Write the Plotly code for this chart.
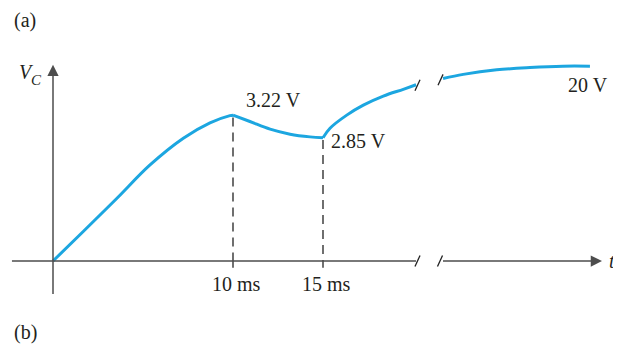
import plotly.graph_objects as go

# ---- data (time in ms, voltage in drawing units; sketch is not to scale) ----
t_charge = [0, 1.68, 3.54, 5.39, 7.24, 8.72, 9.83, 10]
v_charge = [0, 0.65, 1.38, 2.12, 2.71, 3.05, 3.21, 3.22]
t_discharge = [10, 10.94, 12.06, 13.17, 14.28, 15]
v_discharge = [3.22, 3.08, 2.91, 2.80, 2.74, 2.72]
t_recharge = [15, 15.39, 16.32, 17.24, 18.35, 19.46, 20.17]
v_recharge = [2.72, 2.93, 3.22, 3.44, 3.64, 3.79, 3.89]
t_final = [21.67, 22.79, 24.65, 26.5, 28.33, 29.83]
v_final = [4.03, 4.12, 4.22, 4.27, 4.30, 4.30]

mark_t = [10, 15]
mark_v = [3.22, 2.72]
mark_labels = ["10 ms", "15 ms"]
value_labels = ["3.22 V", "2.85 V"]
final_label = "20 V"

break_start = 20.17
break_end = 21.5

CURVE = "#1CA6E0"
AXIS = "#4D4D4D"
TEXT = "#231F20"
FONT = "Liberation Serif"

W, H = 613, 337   # page adds an 8px body margin
OFF = 8

fig = go.Figure()

for tt, vv in [(t_charge, v_charge), (t_discharge, v_discharge),
               (t_recharge, v_recharge), (t_final, v_final)]:
    fig.add_trace(go.Scatter(x=tt, y=vv, mode="lines",
                             line=dict(color=CURVE, width=3, shape="spline", smoothing=1.0),
                             hoverinfo="skip", showlegend=False))

# dashed drop lines
for tm, vm in zip(mark_t, mark_v):
    fig.add_trace(go.Scatter(x=[tm, tm], y=[vm - 0.05, 0], mode="lines",
                             line=dict(color="#222222", width=1.3, dash="9px,6px"),
                             hoverinfo="skip", showlegend=False))
    fig.add_shape(type="line", x0=tm, x1=tm, y0=0, y1=-0.15,
                  line=dict(color="#222222", width=1.3))

# axes
x_left = -2.28
x_tip = 30.5
y_bottom = -0.95
y_tip = 4.33
fig.add_shape(type="line", x0=x_left, x1=break_start, y0=0, y1=0,
              line=dict(color=AXIS, width=1.5))
fig.add_annotation(x=x_tip, y=0, ax=break_end, ay=0, axref="x", ayref="y",
                   showarrow=True, arrowhead=2, arrowsize=1.5, arrowwidth=1.5,
                   arrowcolor=AXIS, text=" ")
fig.add_annotation(x=0, y=y_tip, ax=0, ay=y_bottom, axref="x", ayref="y",
                   showarrow=True, arrowhead=2, arrowsize=1.5, arrowwidth=1.5,
                   arrowcolor=AXIS, text=" ")

# break slashes
def slash(tc, vc):
    fig.add_shape(type="line", x0=tc - 0.14, x1=tc + 0.14, y0=vc - 0.12, y1=vc + 0.12,
                  line=dict(color="#222222", width=1.3))

slash(break_start + 0.08, 0)
slash(break_end, 0)
slash(t_recharge[-1] + 0.08, v_recharge[-1] - 0.01)
slash(t_final[0] - 0.14, v_final[0] - 0.03)

# labels
def txt(x, y, s, xanchor="center", yanchor="middle", xref="x", yref="y", size=20, xs=0, ys=0):
    fig.add_annotation(x=x, y=y, xref=xref, yref=yref, text=s, showarrow=False,
                       xanchor=xanchor, yanchor=yanchor, xshift=xs, yshift=ys,
                       font=dict(family=FONT, size=size, color=TEXT))

def px(xp, yp):
    return (xp - OFF) / W, 1 - (yp - OFF) / H

for tm, lab in zip(mark_t, mark_labels):
    txt(tm, 0, lab, ys=-23, xs=3)
txt(mark_t[0], mark_v[0], value_labels[0], xanchor="left", xs=11, ys=15)
txt(mark_t[1], mark_v[1], value_labels[1], xanchor="left", xs=6, ys=-3)
txt(t_final[-1], v_final[-1], final_label, xanchor="right", xs=20, ys=-19)
txt(x_tip, 0, "<i>t</i>", xanchor="left", xs=5)
vx, vy = px(26, 72)
txt(vx, vy, "<i>V</i>", xref="paper", yref="paper")
cx, cy = px(36, 80)
txt(cx, cy, "<i>C</i>", xref="paper", yref="paper", size=15)
ax_, ay_ = px(12, 20)
txt(ax_, ay_, "(a)", xanchor="left", xref="paper", yref="paper")
bx, by = px(12, 332)
txt(bx, by, "(b)", xanchor="left", xref="paper", yref="paper")

fig.update_layout(
    width=W, height=H, margin=dict(l=0, r=0, t=0, b=0),
    paper_bgcolor="white", plot_bgcolor="white",
    xaxis=dict(range=[(OFF - 53) / 18, (621 - 53) / 18], visible=False, fixedrange=True),
    yaxis=dict(range=[(261 - 345) / 45.3, (261 - OFF) / 45.3], visible=False, fixedrange=True),
    showlegend=False,
)

fig.write_html("out.html", config={"displayModeBar": False})
